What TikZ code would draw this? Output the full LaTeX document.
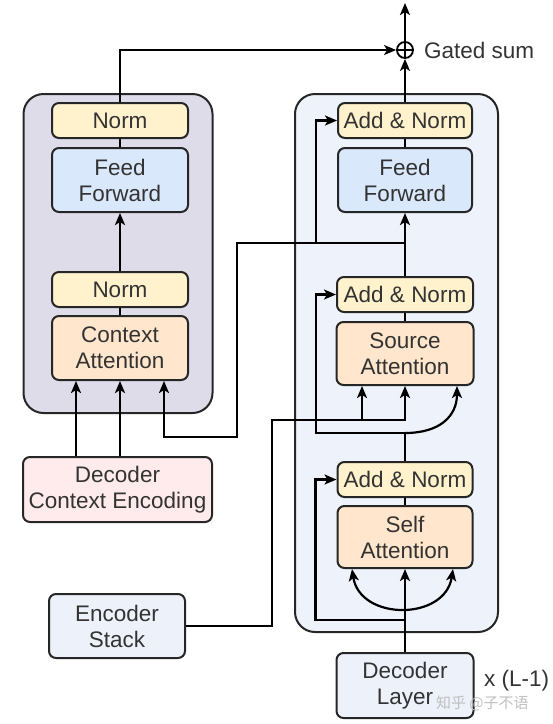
\documentclass[tikz,border=0pt]{standalone}
\usepackage{fontspec}
\usetikzlibrary{arrows.meta}
\setmainfont{Liberation Sans}
\newfontfamily\cjk{Noto Sans CJK SC}
\definecolor{normc}{HTML}{FFF2CC}
\definecolor{ffc}{HTML}{DAE8FC}
\definecolor{attc}{HTML}{FFE6CC}
\definecolor{ctxc}{RGB}{222,220,233}
\definecolor{decc}{RGB}{238,243,251}
\definecolor{dcec}{RGB}{255,235,235}
\definecolor{encc}{RGB}{236,241,250}
\begin{document}
\begin{tikzpicture}[x=1pt, y=-1pt, >={Stealth[length=12pt,width=10pt,inset=3pt]}, line width=2.2pt,
 blk/.style={draw=black!85, line width=2pt, rounded corners=7pt, align=center, inner sep=0pt, text=black!80, font=\fontsize{22.5}{26}\selectfont},
 normbox/.style={blk, fill=normc, minimum width=#1, minimum height=35},
 stackbox/.style={draw=black!85, line width=2pt, rounded corners=20pt, inner sep=0pt},
 lbl/.style={anchor=west, inner sep=0pt, text=black!80, font=\fontsize{22.5}{26}\selectfont}]
\useasboundingbox (0,0) rectangle (553,724);
\node[stackbox, fill=ctxc, minimum width=189, minimum height=319] (ctxstack) at (118,253.5) {};
\node[stackbox, fill=decc, minimum width=203, minimum height=538] (decstack) at (396.5,363) {};
\node[normbox=136] (lnormtop) at (120,120.5) {Norm};
\node[blk, fill=ffc, minimum width=136, minimum height=64] (lff) at (120,180) {Feed\\Forward};
\node[normbox=136] (lnorm) at (120,289.5) {Norm};
\node[blk, fill=attc, minimum width=136, minimum height=64] (catt) at (120,348) {Context\\Attention};
\node[blk, fill=dcec, minimum width=189, minimum height=65] (dce) at (117.5,489.5) {Decoder\\Context Encoding};
\node[blk, fill=encc, minimum width=136, minimum height=64] (enc) at (117,626) {Encoder\\Stack};
\node[normbox=134] (an3) at (405,120.5) {Add \& Norm};
\node[blk, fill=ffc, minimum width=134, minimum height=64] (rff) at (405,180) {Feed\\Forward};
\node[normbox=136] (an2) at (405,294.5) {Add \& Norm};
\node[blk, fill=attc, minimum width=137, minimum height=63] (satt) at (405,353.5) {Source\\Attention};
\node[normbox=135] (an1) at (405,479.5) {Add \& Norm};
\node[blk, fill=attc, minimum width=135, minimum height=62] (selfatt) at (405,537) {Self\\Attention};
\node[blk, fill=encc, minimum width=137, minimum height=65] (declayer) at (405,685.5) {Decoder\\Layer};
\node[circle, draw, line width=1.8pt, minimum size=16, inner sep=0pt] (gsum) at (405,50) {};
\draw[line width=1.8pt] (gsum.north) -- (gsum.south) (gsum.west) -- (gsum.east);
\node[lbl] (gatedlbl) at (423,50) {Gated sum};
\node[lbl] (reps) at (483,681) {x (L-1)};
\node[anchor=west, inner sep=0pt, text=black!25, font=\cjk\fontsize{15}{15}\selectfont] (wmark) at (435,703) {知乎 @子不语};
\coordinate (top) at (405,3);
\coordinate (ffsplit) at (405,243);
\coordinate (ctxturn) at (237,437);
\coordinate (encturn) at (272,420);
\coordinate (srcsplit) at (405,433);
\coordinate (selfsplit) at (405,620);
\draw[->] (lnormtop.north) |- (gsum.west);
\draw[->] (an3.north) -- (gsum.south);
\draw[->] (gsum.north) -- (top);
\draw (lff.north) -- (lnormtop.south);
\draw[->] (lnorm.north) -- (lff.south);
\draw (catt.north) -- (lnorm.south);
\draw[->] ([xshift=-44]catt.south |- dce.north) -- ([xshift=-44]catt.south);
\draw[->] (dce.north -| catt.south) -- (catt.south);
\draw (rff.north) -- (an3.south);
\draw[->] (an2.north) -- (rff.south);
\draw[->] (ffsplit) -| ([xshift=-21]an3.west) -- (an3.west);
\draw[->] (ffsplit) -| (ctxturn) -| ([xshift=44]catt.south);
\draw (satt.north) -- (an2.south);
\draw[->] (enc.east) -| (encturn) -| (satt.south);
\draw[->] ([xshift=-43]satt.south |- encturn) -- ([xshift=-43]satt.south);
\draw (an1.north) -- (srcsplit);
\draw[->] (srcsplit) -| ([xshift=-20]an2.west) -- (an2.west);
\draw[->] (srcsplit) .. controls +(35,0) and +(0,30) .. ([xshift=52]satt.south);
\draw (selfatt.north) -- (an1.south);
\draw[->] (declayer.north) -- (selfatt.south);
\draw[->] (selfsplit) -| ([xshift=-21]an1.west) -- (an1.west);
\draw[<->] ([xshift=-53]selfatt.south) .. controls +(8,52) and +(-8,52) .. ([xshift=48]selfatt.south);
\end{tikzpicture}
\end{document}
